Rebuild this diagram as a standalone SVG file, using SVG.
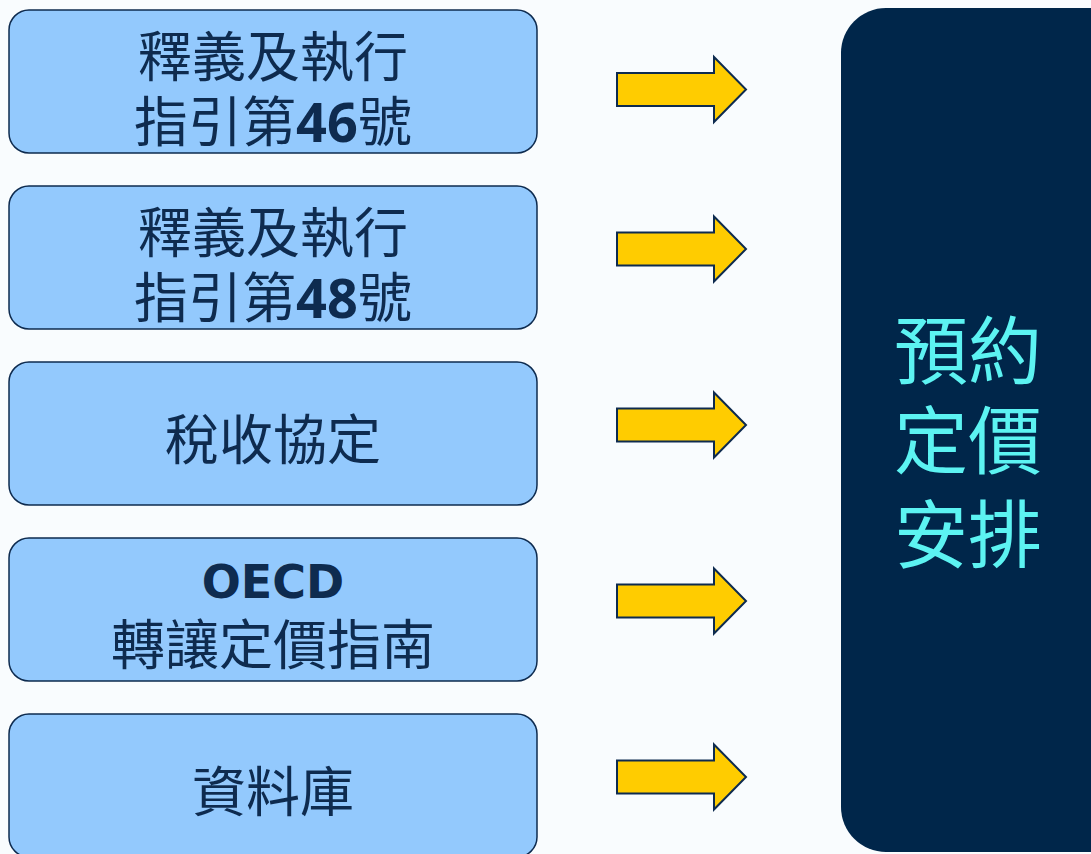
<svg xmlns="http://www.w3.org/2000/svg" width="1091" height="854" viewBox="0 0 1091 854">
<defs>
<style>
.box{fill:#93C9FD;stroke:#0E2B4F;stroke-width:1.5}
.t{font-family:"Noto Sans CJK TC","Noto Sans CJK SC",sans-serif;font-size:54px;fill:#0E2B4F;text-anchor:middle}
.b{font-family:"Open Sans","Liberation Sans",sans-serif;font-weight:bold}
.o{font-family:"DejaVu Sans","Liberation Sans",sans-serif;font-weight:bold;font-size:46px}
.arr{fill:#FFCC00;stroke:#0E2B4F;stroke-width:2;stroke-linejoin:miter}
.rt{font-family:"Noto Sans CJK TC","Noto Sans CJK SC",sans-serif;font-size:74px;fill:#5CF3F2;text-anchor:middle}
</style>
<polygon id="arrowShape" class="arr" points="617,-16.5 714,-16.5 714,-32.5 746,0 714,32.5 714,16.5 617,16.5"/>
</defs>
<rect width="1091" height="854" fill="#F9FCFE"/>
<g id="node1">
<rect class="box" x="9" y="10" width="528" height="143" rx="20"/>
<text class="t" x="273" y="77">釋義及執行</text>
<text class="t" x="273" y="142">指引第<tspan class="b">46</tspan>號</text>
</g>
<g id="node2">
<rect class="box" x="9" y="186" width="528" height="143" rx="20"/>
<text class="t" x="273" y="253">釋義及執行</text>
<text class="t" x="273" y="318">指引第<tspan class="b">48</tspan>號</text>
</g>
<g id="node3">
<rect class="box" x="9" y="362" width="528" height="143" rx="20"/>
<text class="t" x="273" y="460">稅收協定</text>
</g>
<g id="node4">
<rect class="box" x="9" y="538" width="528" height="143" rx="20"/>
<text class="t o" x="273" y="598">OECD</text>
<text class="t" x="273" y="665">轉讓定價指南</text>
</g>
<g id="node5">
<rect class="box" x="9" y="714" width="528" height="143" rx="20"/>
<text class="t" x="273" y="812">資料庫</text>
</g>
<g id="connectors">
<use href="#arrowShape" y="89.5"/>
<use href="#arrowShape" y="249"/>
<use href="#arrowShape" y="425"/>
<use href="#arrowShape" y="601"/>
<use href="#arrowShape" y="777"/>
</g>
<g id="target">
<rect x="841" y="8" width="300" height="844" rx="45" fill="#00264A"/>
<text class="rt" x="968" y="378">預約</text>
<text class="rt" x="968" y="468">定價</text>
<text class="rt" x="968" y="562">安排</text>
</g>
</svg>
